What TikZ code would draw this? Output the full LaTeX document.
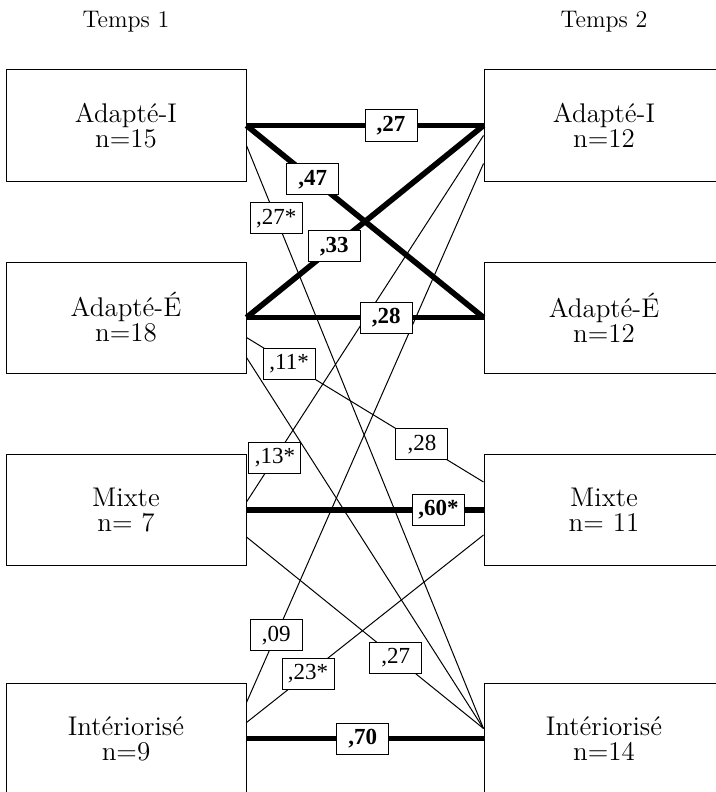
\documentclass[tikz,border=0pt]{standalone}
\usepackage{fontspec}
\newfontfamily\coeffont{Liberation Serif}
\usetikzlibrary{positioning}

\begin{document}
\begin{tikzpicture}[x=0.5pt,y=-0.5pt,
                    groupe/.style={draw, line width=0.5pt, minimum width=120pt, minimum height=55.5pt,
                                   inner sep=0pt, align=center, font=\fontsize{13.5}{12.5}\selectfont},
                    temps/.style={font=\fontsize{12}{14}\selectfont},
                    lien/.style={line width=0.5pt},
                    fort/.style={line width=2.8pt},
                    coef/.style={draw, fill=white, line width=0.5pt, inner sep=1pt,
                                 minimum width=26pt, minimum height=15.5pt,
                                 font=\coeffont\fontsize{11.5}{13}\selectfont}]
                \useasboundingbox (0,0) rectangle (716,792);
                \clip (0,0) rectangle (716,792);
                % titres
                \node[temps] (t1) at (126,22) {Temps 1};
                \node[temps] (t2) at (604,22) {Temps 2};
                % groupes au temps 1
                \node[groupe] (g1) at (126,125.5) {Adapté-I\\n=15};
                \node[groupe] (g2) at (126,317.5) {Adapté-É\\n=18};
                \node[groupe] (g3) at (126,510) {Mixte\\n= 7};
                \node[groupe] (g4) at (126,738.5) {Intériorisé\\n=9};
                % groupes au temps 2
                \node[groupe] (d1) at (604,125.5) {Adapté-I\\n=12};
                \node[groupe] (d2) at (604,317.5) {Adapté-É\\n=12};
                \node[groupe] (d3) at (604,510) {Mixte\\n= 11};
                \node[groupe] (d4) at (604,738.5) {Intériorisé\\n=14};
                % liens faibles
                \draw[lien] ([yshift=-10pt]g1.east) -- node[coef,pos=.125] (c1) {,27*} ([yshift=5pt]d4.west);
                \draw[lien] ([yshift=-10pt]g2.east) -- node[coef,pos=.18] (c2) {,11*}
                                                       node[coef,pos=.74] (c3) {,28} ([yshift=14pt]d3.west);
                \draw[lien] ([yshift=-20pt]g2.east) -- ([yshift=5pt]d4.west);
                \draw[lien] ([yshift=4pt]g3.east) -- node[coef,pos=.12] (c4) {,13*} ([yshift=-5pt]d1.west);
                \draw[lien] ([yshift=-13.5pt]g3.east) -- node[coef,pos=.63] (c5) {,27} ([yshift=5pt]d4.west);
                \draw[lien] ([yshift=18pt]g4.east) -- node[coef,pos=.125] (c6) {,09} ([yshift=-19pt]d1.west);
                \draw[lien] ([yshift=8pt]g4.east) -- node[coef,pos=.26] (c7) {,23*} ([yshift=-12.5pt]d3.west);
                % liens forts
                \draw[fort] (g1.east) -- node[coef,pos=.61] (c8) {\textbf{,27}} (d1.west);
                \draw[fort] (g1.east) -- node[coef,pos=.28] (c9) {\textbf{,47}} (d2.west);
                \draw[fort] (d1.west) -- node[coef,pos=.63] (c10) {\textbf{,33}} (g2.east);
                \draw[fort] (g2.east) -- node[coef,pos=.59] (c11) {\textbf{,28}} (d2.west);
                \draw[fort] (g3.east) -- node[coef,pos=.81] (c12) {\textbf{,60*}} (d3.west);
                \draw[fort] (g4.east) -- node[coef,pos=.49] (c13) {\textbf{,70}} (d4.west);
            \end{tikzpicture}
\end{document}
